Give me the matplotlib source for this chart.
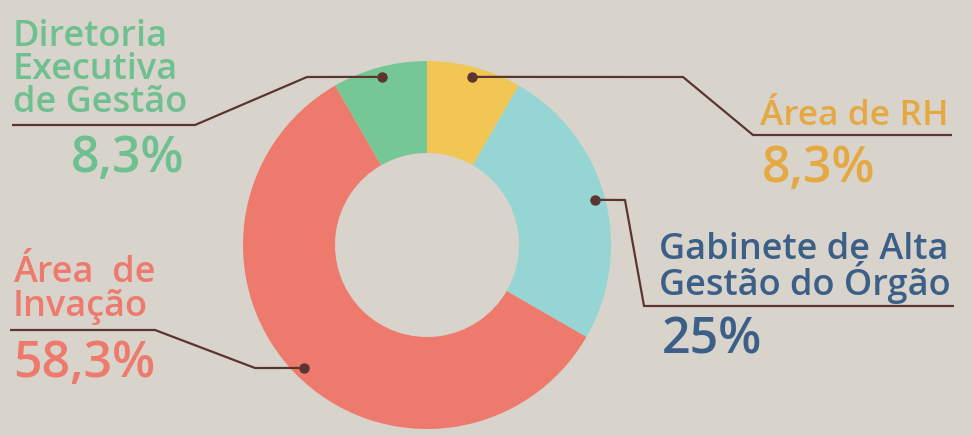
import numpy as np
import matplotlib
matplotlib.use("Agg")
import matplotlib.pyplot as plt

# ---- data ----
categories = ["Área de RH", "Gabinete de Alta Gestão do Órgão", "Área de Invação", "Diretoria Executiva de Gestão"]
values = [8.3, 25.0, 58.3, 8.3]
pct_labels = ["8,3%", "25%", "58,3%", "8,3%"]
label_lines = [["Área de RH"], ["Gabinete de Alta", "Gestão do Órgão"],
               ["Área  de", "Invação"], ["Diretoria", "Executiva", "de Gestão"]]

# ---- style ----
BG = "#D8D4CB"
slice_colors = ["#F2C655", "#95D5D4", "#EE7A6D", "#75C795"]
text_colors = ["#E5A944", "#3C5F88", "#EE7A6D", "#6FC090"]
LINE = "#5B3530"
FONT = ["Open Sans", "DejaVu Sans"]
WEIGHT = 600

W, H = 972, 436
fig = plt.figure(figsize=(W / 100, H / 100), dpi=100, facecolor=BG)
ax = fig.add_axes([0, 0, 1, 1])
ax.set_facecolor(BG)

cx, cy, R = 427, H - 245, 184
wedges, _ = ax.pie(values, colors=slice_colors, startangle=90, counterclock=False,
                   radius=R, center=(cx, cy),
                   wedgeprops=dict(width=R * 0.5, linewidth=0))
ax.set_xlim(0, W)
ax.set_ylim(0, H)
ax.set_aspect("auto")
ax.axis("off")

def Y(y):
    return H - y

# leader line elbows (pixel coords from top), dot computed from wedge mid-angle
elbows = [
    [(683, 77), (753, 135), (952, 135)],
    [(625, 200), (644, 306), (954, 306)],
    [(255, 368), (155, 330), (10, 330)],
    [(307, 77), (195, 125), (12, 125)],
]
for w, pts in zip(wedges, elbows):
    ang = np.deg2rad((w.theta1 + w.theta2) / 2)
    rdot = 174
    dx, dy = cx + rdot * np.cos(ang), cy + rdot * np.sin(ang)
    xs = [dx] + [p[0] for p in pts]
    ys = [dy] + [Y(p[1]) for p in pts]
    ax.plot(xs, ys, color=LINE, lw=1.6, solid_capstyle="butt", zorder=3)
    ax.plot([dx], [dy], "o", color=LINE, ms=6.5, zorder=4)

def put(x, y, s, color, size, ha="left", ls=1.0):
    ax.text(x, Y(y), s, color=color, fontsize=size, family=FONT, weight=WEIGHT,
            ha=ha, va="baseline", linespacing=ls)

# Área de RH
put(760, 125, label_lines[0][0], text_colors[0], 25.5)
put(762, 182, pct_labels[0], text_colors[0], 36)
# Gabinete (two lines in one text)
put(659, 295, "\n".join(label_lines[1]), text_colors[1], 26, ls=0.78)
put(662, 353, pct_labels[1], text_colors[1], 36)
# Área de Invação
for s, yb in zip(label_lines[2], [282, 316]):
    put(13, yb, s, text_colors[2], 26)
put(13, 377, pct_labels[2], text_colors[2], 36)
# Diretoria
for s, yb in zip(label_lines[3], [46, 79, 112]):
    put(13, yb, s, text_colors[3], 26)
put(184, 172, pct_labels[3], text_colors[3], 36, ha="right")

fig.savefig("out.png", dpi=100, facecolor=BG)
